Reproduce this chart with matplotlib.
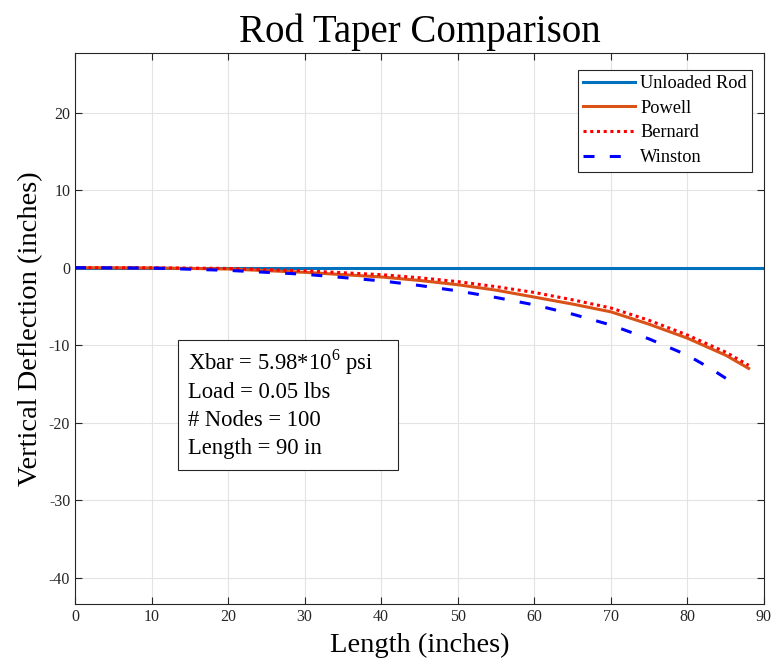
import matplotlib
matplotlib.use('Agg')
import matplotlib.pyplot as plt
from matplotlib.patches import Rectangle

plt.rcParams['font.family'] = ['Liberation Serif', 'DejaVu Serif']
plt.rcParams['mathtext.fontset'] = 'custom'
plt.rcParams['mathtext.rm'] = 'Liberation Serif'
plt.rcParams['axes.unicode_minus'] = False

# values
x_unloaded = [0, 90]
y_unloaded = [0, 0]

x_rod = [0, 10, 20, 30, 40, 45, 50, 55, 60, 65, 70, 75, 80, 85, 88]
powell = [0, -0.03, -0.17, -0.6, -1.2, -1.65, -2.2, -2.9, -3.8, -4.7, -5.7, -7.3, -9.1, -11.3, -13.0]
bernard = [0, -0.02, -0.1, -0.4, -0.9, -1.3, -1.8, -2.45, -3.2, -4.15, -5.2, -6.8, -8.7, -10.9, -12.6]

x_winston = [0, 10, 20, 30, 40, 45, 50, 55, 60, 65, 70, 75, 80, 83, 86]
winston = [0, -0.05, -0.35, -0.85, -1.7, -2.3, -3.0, -3.85, -4.8, -6.0, -7.4, -9.2, -11.3, -13.0, -14.9]

xticks = list(range(0, 91, 10))
yticks = list(range(-40, 21, 10))

info_lines = ['Xbar = 5.98*10$^6$ psi', 'Load = 0.05 lbs', '# Nodes = 100', 'Length = 90 in']

fig = plt.figure(figsize=(7.75, 6.67), dpi=100)
ax = fig.add_axes([0.0968, 0.0945, 0.889, 0.826])

ax.plot(x_unloaded, y_unloaded, color='#0072BD', lw=2.2, label='Unloaded Rod')
ax.plot(x_rod, powell, color='#D95319', lw=2.2, label='Powell')
ax.plot(x_rod, bernard, color='red', lw=2.2, linestyle=(0, (1, 1.2)), label='Bernard')
ax.plot(x_winston, winston, color='blue', lw=2.2, linestyle=(0, (3.6, 5)), label='Winston')

ax.set_xlim(0, 90)
ax.set_ylim(-43.4, 27.7)
ax.set_xticks(xticks)
ax.set_yticks(yticks)
ax.grid(True, color='#e3e3e3', lw=0.8)
ax.set_axisbelow(True)
ax.tick_params(direction='in', top=True, right=True, labelsize=11.5, colors='#262626', length=5)
for s in ax.spines.values():
    s.set_color('#262626')

ax.set_title('Rod Taper Comparison', fontsize=28, pad=8)
ax.set_xlabel('Length (inches)', fontsize=20.5, labelpad=6)
ax.set_ylabel('Vertical Deflection (inches)', fontsize=20.5, labelpad=4)

leg = ax.legend(loc='upper right', bbox_to_anchor=(0.983, 0.97), borderaxespad=0,
                fontsize=13.2, fancybox=False, edgecolor='#262626', framealpha=1,
                handlelength=2.8, handletextpad=0.3, labelspacing=0.42, borderpad=0.3)
leg.get_frame().set_linewidth(0.8)

# info box
ax.add_patch(Rectangle((0.1495, 0.2432), 0.3193, 0.2358, transform=ax.transAxes,
                       facecolor='white', edgecolor='#262626', lw=0.8, zorder=4))
for i, line in enumerate(info_lines):
    ax.text(0.164, 0.4247 - i * 0.0508, line, transform=ax.transAxes, fontsize=16.3,
            ha='left', va='baseline', zorder=5)

fig.savefig('out.png', dpi=100)
